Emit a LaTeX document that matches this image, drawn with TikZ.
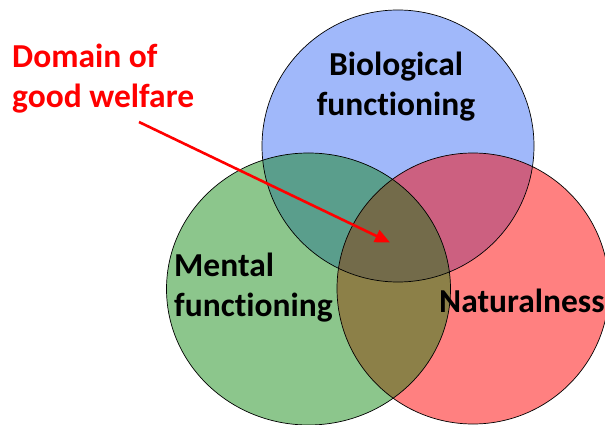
\documentclass[tikz,border=0pt]{standalone}
\usepackage{fontspec}
\setmainfont{Carlito}[Ligatures={NoCommon}]
\usetikzlibrary{arrows.meta}
\definecolor{cB}{RGB}{160,184,250}
\definecolor{cG}{RGB}{140,198,140}
\definecolor{cR}{RGB}{255,128,128}
\definecolor{cBG}{RGB}{90,158,140}
\definecolor{cBR}{RGB}{204,96,128}
\definecolor{cGR}{RGB}{140,128,72}
\definecolor{cAll}{RGB}{115,107,74}
\tikzset{
  lbl/.style={font=\fontsize{33.5}{40}\selectfont\bfseries, inner sep=0pt},
  outline/.style={draw=black, line width=0.7pt},
  pointer/.style={draw={rgb,255:red,255;green,0;blue,0}, line width=2.6pt, -{Triangle[length=15pt,width=13pt]}}
}
\begin{document}
\begin{tikzpicture}[x=1pt,y=-1pt]
\useasboundingbox (0,0) rectangle (605,425);
\clip (0,0) rectangle (605,425);
\def\circB{(398,146) ellipse [x radius=136, y radius=136]}
\def\circG{(308.5,289) ellipse [x radius=142, y radius=136]}
\def\circR{(473,288.5) ellipse [x radius=136, y radius=135.5]}
% base fills
\fill[cB] \circB;
\fill[cG] \circG;
\fill[cR] \circR;
% pairwise overlaps
\begin{scope}\clip \circB; \fill[cBG] \circG; \end{scope}
\begin{scope}\clip \circB; \fill[cBR] \circR; \end{scope}
\begin{scope}\clip \circG; \fill[cGR] \circR; \end{scope}
\begin{scope}\clip \circB; \clip \circG; \fill[cAll] \circR; \end{scope}
% outlines
\draw[outline] \circB;
\draw[outline] \circG;
\draw[outline] \circR;
% labels
\node[lbl, align=center] (bio) at (396,87) {Biological\\functioning};
\node[lbl, align=left, anchor=west] (mental) at (174,288) {Mental\\functioning};
\node[lbl, anchor=base west] (nat) at (439,312) {Naturalness};
\node[lbl, align=left, anchor=west, text={rgb,255:red,255;green,0;blue,0}] (dom) at (12,79) {Domain of\\good welfare};
\coordinate (tip) at (390,242.5);
\coordinate (tail) at (139,122);
\draw[pointer] (tail) -- (tip);
\end{tikzpicture}
\end{document}
